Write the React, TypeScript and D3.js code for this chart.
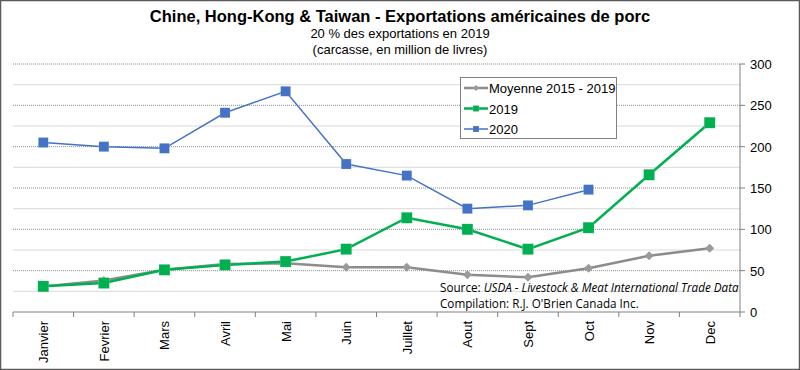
import React from 'react';
import * as d3 from 'd3';

// data
const months = ['Janvier', 'Fevrier', 'Mars', 'Avril', 'Mai', 'Juin', 'Juillet', 'Aout', 'Sept', 'Oct', 'Nov', 'Dec'];
const avg1519 = [31, 38, 51, 58, 59, 54, 54, 45, 42, 53, 68, 77];
const y2019 = [31, 35, 51, 57, 61, 76, 114, 100, 76, 102, 166, 229];
const y2020 = [205, 200, 198, 241, 267, 179, 165, 125, 129, 148];
const yTicks = [0, 50, 100, 150, 200, 250, 300];
const minorTicks = [25, 75, 125, 175, 225, 275];

const App = () => {
  const width = 800;
  const height = 370;
  const plot = { left: 13, right: 740, top: 64, bottom: 312 };
  const font = 'Liberation Sans, Arial, sans-serif';

  const xScale = d3.scaleBand().domain(months).range([plot.left, plot.right]);
  const yScale = d3.scaleLinear().domain([0, 300]).range([plot.bottom, plot.top]);
  const cx = (m) => xScale(m) + xScale.bandwidth() / 2;

  const line = d3.line().x((d) => cx(d[0])).y((d) => yScale(d[1]));
  const pts = (vals) => vals.map((v, i) => [months[i], v]);

  const series = [
    { name: 'Moyenne 2015 - 2019', vals: avg1519, color: '#8c8c8c', fill: '#9a9a9a', width: 2.5, marker: 'diamond', size: 9 },
    { name: '2019', vals: y2019, color: '#00b050', fill: '#00b050', width: 2.5, marker: 'square', size: 11 },
    { name: '2020', vals: y2020, color: '#4472c4', fill: '#4472c4', width: 1.5, marker: 'square', size: 10 },
  ];

  const marker = (s, x, y, key) => {
    if (s.marker === 'diamond') {
      const r = s.size / 2;
      return <path key={key} d={`M${x},${y - r}L${x + r},${y}L${x},${y + r}L${x - r},${y}Z`} fill={s.fill} />;
    }
    return <rect key={key} x={x - s.size / 2} y={y - s.size / 2} width={s.size} height={s.size} fill={s.fill} stroke="#ffffff" strokeOpacity={0.3} strokeWidth={0.5} />;
  };

  const boundaries = months.map((m) => xScale(m)).concat([plot.right]);

  return (
    <svg width={width} height={height} style={{ position: 'absolute', left: 0, top: 0 }}>
      <rect x={0.5} y={0.5} width={width - 1} height={height - 1} fill="#ffffff" stroke="#595959" strokeWidth={1.5} />

      {/* titles */}
      <text x={400} y={22} textAnchor="middle" fontFamily={font} fontWeight="bold" fontSize={16.5} fill="#000">
        Chine, Hong-Kong &amp; Taiwan - Exportations américaines de porc
      </text>
      <text x={400} y={38} textAnchor="middle" fontFamily={font} fontSize={13} fill="#000">20 % des exportations en 2019</text>
      <text x={400} y={54} textAnchor="middle" fontFamily={font} fontSize={13} fill="#000">(carcasse, en million de livres)</text>

      {/* gridlines */}
      {minorTicks.map((t) => (
        <line key={'m' + t} x1={plot.left} x2={plot.right} y1={yScale(t)} y2={yScale(t)} stroke="#d9d9d9" strokeWidth={1} />
      ))}
      {yTicks.filter((t) => t > 0).map((t) => (
        <line key={'g' + t} x1={plot.left} x2={plot.right} y1={yScale(t)} y2={yScale(t)} stroke="#8a8a8a" strokeWidth={1} strokeDasharray="1,1" />
      ))}

      {/* axes */}
      <line x1={plot.left} x2={plot.right} y1={plot.bottom} y2={plot.bottom} stroke="#808080" strokeWidth={1} />
      {boundaries.map((b, i) => (
        <line key={'xt' + i} x1={b} x2={b} y1={plot.bottom} y2={plot.bottom + 5} stroke="#808080" />
      ))}
      <line x1={plot.right} x2={plot.right} y1={plot.top} y2={plot.bottom} stroke="#808080" strokeWidth={1} />
      {yTicks.map((t) => (
        <g key={'yt' + t}>
          <line x1={plot.right} x2={plot.right + 5} y1={yScale(t)} y2={yScale(t)} stroke="#808080" />
          <text x={plot.right + 10} y={yScale(t) + 5} fontFamily={font} fontSize={13} fill="#000">{t}</text>
        </g>
      ))}
      {months.map((m) => (
        <text key={'xl' + m} transform={`translate(${cx(m) + 5},${plot.bottom + 9}) rotate(-90)`} textAnchor="end" fontFamily={font} fontSize={13} fill="#000">
          {m}
        </text>
      ))}

      {/* source note */}
      <text x={440} y={292} fontFamily="Open Sans, Liberation Sans, sans-serif" fontSize={11.7} fill="#000">
        Source: <tspan fontStyle="italic">USDA - Livestock &amp; Meat International Trade Data</tspan>
      </text>
      <text x={440} y={308} fontFamily="Open Sans, Liberation Sans, sans-serif" fontSize={11.7} fill="#000">
        Compilation: R.J. O'Brien Canada Inc.
      </text>

      {/* series */}
      {series.map((s) => (
        <g key={s.name}>
          <path d={line(pts(s.vals))} fill="none" stroke={s.color} strokeWidth={s.width} />
          {s.vals.map((v, i) => marker(s, cx(months[i]), yScale(v), i))}
        </g>
      ))}

      {/* legend */}
      <rect x={460.5} y={77.5} width={156} height={61} fill="#ffffff" stroke="#808080" strokeWidth={1} />
      {series.map((s, i) => {
        const ly = 88 + i * 20.5;
        return (
          <g key={'lg' + s.name}>
            <line x1={464} x2={488} y1={ly} y2={ly} stroke={s.color} strokeWidth={s.width} />
            {marker({ ...s, size: 6 }, 476, ly, 'lm' + i)}
            <text x={489} y={ly + 5} fontFamily={font} fontSize={13} fill="#000">{s.name}</text>
          </g>
        );
      })}
    </svg>
  );
};

export default App;
